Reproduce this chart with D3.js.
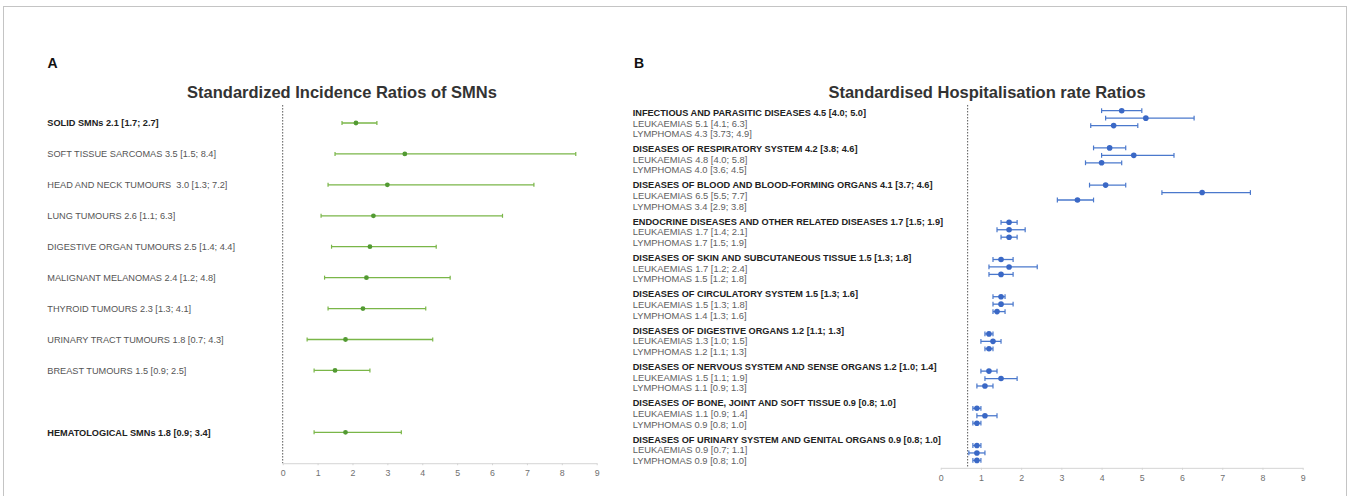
<!DOCTYPE html>
<html>
<head>
<meta charset="utf-8">
<script src="https://cdn.jsdelivr.net/npm/d3@7"></script>
<style>
  body { margin: 0; background: #fff; }
  text { font-family: "Liberation Sans", Arial, sans-serif; }
</style>
</head>
<body>
<div id="chart"></div>
<script>
// panel A: standardized incidence ratios of SMNs
const smnNames = [
  "SOLID SMNs", "SOFT TISSUE SARCOMAS", "HEAD AND NECK TUMOURS ", "LUNG TUMOURS",
  "DIGESTIVE ORGAN TUMOURS", "MALIGNANT MELANOMAS", "THYROID TUMOURS",
  "URINARY TRACT TUMOURS", "BREAST TUMOURS", "HEMATOLOGICAL SMNs"
];
const smnSir = [2.1, 3.5, 3.0, 2.6, 2.5, 2.4, 2.3, 1.8, 1.5, 1.8];
const smnLow = [1.7, 1.5, 1.3, 1.1, 1.4, 1.2, 1.3, 0.7, 0.9, 0.9];
const smnHigh = [2.7, 8.4, 7.2, 6.3, 4.4, 4.8, 4.1, 4.3, 2.5, 3.4];
const smnRow = [0, 1, 2, 3, 4, 5, 6, 7, 8, 10];
const smnBold = [true, false, false, false, false, false, false, false, false, true];

// panel B: standardised hospitalisation rate ratios
const hospGroups = [
  "INFECTIOUS AND PARASITIC DISEASES", "DISEASES OF RESPIRATORY SYSTEM",
  "DISEASES OF BLOOD AND BLOOD-FORMING ORGANS", "ENDOCRINE DISEASES AND OTHER RELATED DISEASES",
  "DISEASES OF SKIN AND SUBCUTANEOUS TISSUE", "DISEASES OF CIRCULATORY SYSTEM",
  "DISEASES OF DIGESTIVE ORGANS", "DISEASES OF NERVOUS SYSTEM AND SENSE ORGANS",
  "DISEASES OF BONE, JOINT AND SOFT TISSUE", "DISEASES OF URINARY SYSTEM AND GENITAL ORGANS"
];
const allEst = [4.5, 4.2, 4.1, 1.7, 1.5, 1.5, 1.2, 1.2, 0.9, 0.9];
const allLow = [4.0, 3.8, 3.7, 1.5, 1.3, 1.3, 1.1, 1.0, 0.8, 0.8];
const allHigh = [5.0, 4.6, 4.6, 1.9, 1.8, 1.6, 1.3, 1.4, 1.0, 1.0];
const leukNames = ["LEUKAEMIAS", "LEUKAEMIAS", "LEUKAEMIAS", "LEUKAEMIAS", "LEUKAEMIAS",
  "LEUKAEMIAS", "LEUKAEMIAS", "LEUKEAMIAS", "LEUKAEMIAS", "LEUKAEMIAS"];
const leukEst = [5.1, 4.8, 6.5, 1.7, 1.7, 1.5, 1.3, 1.5, 1.1, 0.9];
const leukLow = [4.1, 4.0, 5.5, 1.4, 1.2, 1.3, 1.0, 1.1, 0.9, 0.7];
const leukHigh = [6.3, 5.8, 7.7, 2.1, 2.4, 1.8, 1.5, 1.9, 1.4, 1.1];
const lymphEst = [4.3, 4.0, 3.4, 1.7, 1.5, 1.4, 1.2, 1.1, 0.9, 0.9];
const lymphLow = [3.73, 3.6, 2.9, 1.5, 1.2, 1.3, 1.1, 0.9, 0.8, 0.8];
const lymphHigh = [4.9, 4.5, 3.8, 1.9, 1.8, 1.6, 1.3, 1.3, 1.0, 1.0];

const xTicks = [0, 1, 2, 3, 4, 5, 6, 7, 8, 9];

const width = 1351;
const height = 496;

// 1.10 -> 1.1, 3.73 stays
const fmt = (v) => {
  const s = v.toFixed(2);
  return s.endsWith("0") ? v.toFixed(1) : s;
};
const ciText = (name, e, l, h) => `${name} ${fmt(e)} [${fmt(l)}; ${fmt(h)}]`;

const svg = d3
  .select("#chart")
  .append("svg")
  .attr("width", width)
  .attr("height", height);

svg
  .append("rect")
  .attr("x", 3.5)
  .attr("y", 6.5)
  .attr("width", 1343)
  .attr("height", 520)
  .attr("fill", "none")
  .attr("stroke", "#c4c4c4");

// draws one forest plot: CI line, caps and dot for each row
function forest(g, rows, x, y, opt) {
  const item = g.selectAll(".ci").data(rows).enter().append("g").attr("class", "ci");
  item
    .append("line")
    .attr("x1", (d) => x(d.lo))
    .attr("x2", (d) => x(d.hi))
    .attr("y1", (d) => y(d.row))
    .attr("y2", (d) => y(d.row))
    .attr("stroke", opt.line)
    .attr("stroke-width", 1.3);
  ["lo", "hi"].forEach((k) => {
    item
      .append("line")
      .attr("x1", (d) => x(d[k]))
      .attr("x2", (d) => x(d[k]))
      .attr("y1", (d) => y(d.row) - opt.cap)
      .attr("y2", (d) => y(d.row) + opt.cap)
      .attr("stroke", opt.line)
      .attr("stroke-width", 1.2);
  });
  item
    .append("circle")
    .attr("cx", (d) => x(d.est))
    .attr("cy", (d) => y(d.row))
    .attr("r", opt.r)
    .attr("fill", opt.dot);
}

function bottomAxis(g, x, yPos) {
  const ax = g
    .append("g")
    .attr("transform", `translate(0,${yPos})`)
    .call(d3.axisBottom(x).tickValues(xTicks).tickFormat(d3.format("d")).tickSize(2).tickSizeOuter(0).tickPadding(5));
  ax.select(".domain").attr("stroke", "#d4d4d4");
  ax.selectAll(".tick line").attr("stroke", "#d4d4d4");
  ax.selectAll(".tick text")
    .attr("fill", "#6f6f6f")
    .style("font-size", "8.8px")
    .style("font-family", "'Liberation Sans', Arial, sans-serif");
}

// ---------- panel A ----------
const gA = svg.append("g");
const xA = d3.scaleLinear().domain([0, 9]).range([282.7, 596.7]);
const yA = d3.scaleLinear().domain([0, 10]).range([123, 432.3]);

const rowsA = smnNames.map((n, i) => ({
  label: ciText(n, smnSir[i], smnLow[i], smnHigh[i]),
  est: smnSir[i], lo: smnLow[i], hi: smnHigh[i],
  row: smnRow[i], bold: smnBold[i]
}));

gA.append("text").attr("x", 47.5).attr("y", 68).text("A")
  .style("font-size", "14px").style("font-weight", "bold").attr("fill", "#111");
gA.append("text").attr("x", 342).attr("y", 97.7).text("Standardized Incidence Ratios of SMNs")
  .style("font-size", "16.5px").style("font-weight", "bold").attr("fill", "#333")
  .style("text-anchor", "middle");

gA.append("line")
  .attr("x1", xA(0)).attr("x2", xA(0))
  .attr("y1", yA(-0.58)).attr("y2", yA(11))
  .attr("stroke", "#555").attr("stroke-dasharray", "1.5,1.5");

gA.selectAll(".lab")
  .data(rowsA)
  .enter()
  .append("text")
  .attr("class", "lab")
  .attr("x", 47.3)
  .attr("y", (d) => yA(d.row))
  .attr("dy", "0.35em")
  .style("white-space", "pre")
  .style("font-size", "9.2px")
  .style("font-weight", (d) => (d.bold ? "bold" : "normal"))
  .attr("fill", (d) => (d.bold ? "#222" : "#555"))
  .text((d) => d.label);

forest(gA, rowsA, xA, yA, { line: "#7ab648", dot: "#529a32", r: 2.4, cap: 2 });
bottomAxis(gA, xA, yA(11));

// ---------- panel B ----------
const gB = svg.append("g");
const xB = d3.scaleLinear().domain([0, 9]).range([940.7, 1302.7]);
const yB = d3.scaleLinear().domain([0, 47]).range([110.7, 460.4]); // 5 slots per group
const yLab = d3.scaleLinear().domain([0, 9]).range([112.7, 439.3]);
const subStep = 10.6;

const rowsB = [];
hospGroups.forEach((name, g) => {
  rowsB.push({ label: ciText(name, allEst[g], allLow[g], allHigh[g]), est: allEst[g], lo: allLow[g], hi: allHigh[g], g, s: 0, bold: true });
  rowsB.push({ label: ciText(leukNames[g], leukEst[g], leukLow[g], leukHigh[g]), est: leukEst[g], lo: leukLow[g], hi: leukHigh[g], g, s: 1, bold: false });
  rowsB.push({ label: ciText("LYMPHOMAS", lymphEst[g], lymphLow[g], lymphHigh[g]), est: lymphEst[g], lo: lymphLow[g], hi: lymphHigh[g], g, s: 2, bold: false });
});
rowsB.forEach((d) => (d.row = d.g * 5 + d.s));

gB.append("text").attr("x", 634).attr("y", 68).text("B")
  .style("font-size", "14px").style("font-weight", "bold").attr("fill", "#111");
gB.append("text").attr("x", 987).attr("y", 97.7).text("Standardised Hospitalisation rate Ratios")
  .style("font-size", "16.5px").style("font-weight", "bold").attr("fill", "#333")
  .style("text-anchor", "middle");

gB.append("line")
  .attr("x1", xB(0.67)).attr("x2", xB(0.67))
  .attr("y1", yB(-0.77)).attr("y2", yB(48))
  .attr("stroke", "#555").attr("stroke-dasharray", "1.5,1.5");

gB.selectAll(".lab")
  .data(rowsB)
  .enter()
  .append("text")
  .attr("class", "lab")
  .attr("x", 632.7)
  .attr("y", (d) => yLab(d.g) + d.s * subStep)
  .attr("dy", "0.35em")
  .style("font-size", (d) => (d.bold ? "9.2px" : "9.4px"))
  .style("font-weight", (d) => (d.bold ? "bold" : "normal"))
  .attr("fill", (d) => (d.bold ? "#222" : "#606060"))
  .text((d) => d.label);

forest(gB, rowsB, xB, yB, { line: "#4a78cc", dot: "#3a68c6", r: 2.8, cap: 2.4 });
bottomAxis(gB, xB, yB(48));
</script>
</body>
</html>
